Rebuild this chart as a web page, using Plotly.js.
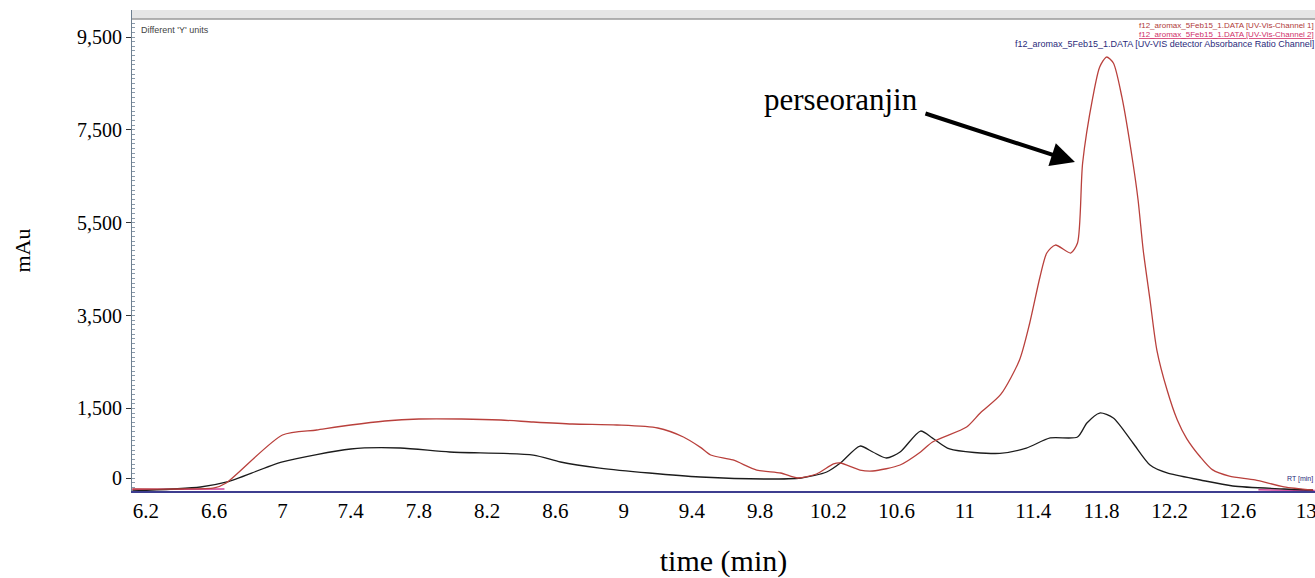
<!DOCTYPE html>
<html>
<head>
<meta charset="utf-8">
<script src="https://cdn.plot.ly/plotly-3.0.1.min.js"></script>
<style>html,body{margin:0;padding:0;background:#fff;}#chart{width:1315px;height:578px;}</style>
</head>
<body>
<div id="chart"></div>
<script>
// Channel 1 (red): retention time (min) and signal (mAu)
var redTime = [6.12, 6.40, 6.60, 6.67, 7.00, 7.20, 7.40, 7.60, 7.80, 8.05, 8.28, 8.47, 8.70, 8.96, 9.20, 9.35, 9.45, 9.51, 9.64, 9.78, 9.92, 10.02, 10.13, 10.23, 10.27, 10.385, 10.46, 10.62, 10.74, 10.81, 11.01, 11.09, 11.21, 11.32, 11.38, 11.44, 11.48, 11.53, 11.62, 11.66, 11.69, 11.75, 11.79, 11.83, 11.87, 11.92, 11.985, 12.015, 12.045, 12.085, 12.125, 12.185, 12.245, 12.30, 12.38, 12.45, 12.55, 12.70, 12.87, 13.04];
var redValue = [-237, -237, -215, -108, 926, 1034, 1142, 1228, 1271, 1271, 1249, 1206, 1163, 1142, 1077, 883, 660, 495, 388, 172, 108, 0, 86, 302, 323, 172, 151, 280, 560, 776, 1099, 1400, 1800, 2542, 3339, 4330, 4847, 5019, 4847, 5062, 6786, 8208, 8854, 9069, 8940, 8208, 6786, 5989, 4912, 3834, 2757, 1896, 1249, 850, 452, 180, 40, -40, -190, -258];

// Absorbance ratio channel (black)
var blackTime = [6.12, 6.52, 6.675, 7.00, 7.40, 7.69, 7.98, 8.47, 8.63, 8.86, 9.15, 9.45, 9.84, 10.04, 10.19, 10.27, 10.385, 10.46, 10.54, 10.62, 10.74, 10.81, 10.91, 11.205, 11.36, 11.50, 11.66, 11.715, 11.79, 11.87, 11.985, 12.085, 12.185, 12.38, 12.57, 12.87, 13.04];
var blackValue = [-280, -194, -86, 345, 625, 646, 560, 495, 345, 215, 108, 22, -22, 0, 129, 323, 689, 560, 431, 560, 1012, 860, 625, 530, 646, 862, 883, 1185, 1400, 1293, 754, 280, 108, -43, -172, -237, -258];

// Channel 2 (magenta), visible only near the baseline
var pinkTime = [6.12, 6.40, 6.66, null, 12.72, 12.90, 13.05];
var pinkValue = [-250, -245, -235, null, -255, -262, -268];

// Axis ticks
var xTickVals = [6.2, 6.6, 7, 7.4, 7.8, 8.2, 8.6, 9, 9.4, 9.8, 10.2, 10.6, 11, 11.4, 11.8, 12.2, 12.6, 13];
var xTickText = ['6.2', '6.6', '7', '7.4', '7.8', '8.2', '8.6', '9', '9.4', '9.8', '10.2', '10.6', '11', '11.4', '11.8', '12.2', '12.6', '13'];
var yTickVals = [0, 1500, 3500, 5500, 7500, 9500];
var yTickText = ['0', '1,500', '3,500', '5,500', '7,500', '9,500'];

var serif = 'Liberation Serif, Times New Roman, serif';
var sans = 'Liberation Sans, Arial, sans-serif';

var traces = [
  {x: pinkTime, y: pinkValue, mode: 'lines', line: {color: '#d0409a', width: 1.5}, name: 'UV-Vis-Channel 2', hoverinfo: 'skip'},
  {x: blackTime, y: blackValue, mode: 'lines', line: {color: '#1c1c1c', width: 1.3, shape: 'spline', smoothing: 0.7}, name: 'Absorbance Ratio Channel'},
  {x: redTime, y: redValue, mode: 'lines', line: {color: '#b9403c', width: 1.3, shape: 'spline', smoothing: 0.7}, name: 'UV-Vis-Channel 1'}
];

var layout = {
  width: 1315, height: 578,
  margin: {l: 132, r: 0, t: 10, b: 87},
  paper_bgcolor: '#ffffff', plot_bgcolor: '#ffffff',
  showlegend: false,
  xaxis: {
    range: [6.118, 13.052], tickmode: 'array', tickvals: xTickVals, ticktext: xTickText,
    showgrid: false, zeroline: false, showline: true, linecolor: '#3d3d8f', linewidth: 1.5,
    ticks: '', ticklabeloverflow: 'allow',
    tickfont: {family: serif, size: 21, color: '#000'},
    title: {text: 'time (min)', font: {family: serif, size: 30, color: '#000'}, standoff: 31},
    automargin: false
  },
  yaxis: {
    range: [-280, 10082], tickmode: 'array', tickvals: yTickVals, ticktext: yTickText,
    showgrid: false, zeroline: false, showline: true, linecolor: '#6f8090', linewidth: 1,
    ticks: 'outside', ticklen: 5, tickcolor: '#333', tickwidth: 1,
    minor: {tickmode: 'linear', tick0: 0, dtick: 100, ticks: 'inside', ticklen: 3, tickcolor: '#8a9aaa', tickwidth: 1},
    tickfont: {family: serif, size: 20, color: '#000'},
    title: {text: 'mAu', font: {family: serif, size: 22, color: '#000'}, standoff: 40},
    automargin: false
  },
  shapes: [
    {type: 'rect', xref: 'paper', yref: 'paper', x0: 0, x1: 1, y0: 0.9813, y1: 1, fillcolor: '#e6e6e6', line: {width: 0}},
    {type: 'line', xref: 'paper', yref: 'paper', x0: 0, x1: 1, y0: 0.9813, y1: 0.9813, line: {color: '#9a9a9a', width: 1.5}}
  ],
  annotations: [
    {x: 11.645, y: 6807, xref: 'x', yref: 'y', text: '', showarrow: true, ax: -151, ay: -49,
     arrowhead: 2, arrowsize: 1.2, arrowwidth: 4, arrowcolor: '#000', standoff: 0},
    {x: 10.274, y: 8150, xref: 'x', yref: 'y', text: 'perseoranjin', showarrow: false,
     font: {family: serif, size: 31, color: '#000'}, xanchor: 'center', yanchor: 'middle'},
    {x: 0.006, y: 0.974, xref: 'paper', yref: 'paper', text: "Different 'Y' units", showarrow: false,
     font: {family: sans, size: 9, color: '#444'}, xanchor: 'left', yanchor: 'top'},
    {x: 1, y: 0.979, xref: 'paper', yref: 'paper', text: 'f12_aromax_5Feb15_1.DATA [UV-Vis-Channel 1]', showarrow: false,
     font: {family: sans, size: 8, color: '#b03a3a'}, xanchor: 'right', yanchor: 'top', borderpad: 0},
    {x: 1, y: 0.960, xref: 'paper', yref: 'paper', text: '<u>f12_aromax_5Feb15_1.DATA [UV-Vis-Channel 2]</u>', showarrow: false,
     font: {family: sans, size: 8, color: '#d0306a'}, xanchor: 'right', yanchor: 'top', borderpad: 0},
    {x: 1, y: 0.941, xref: 'paper', yref: 'paper', text: 'f12_aromax_5Feb15_1.DATA [UV-VIS detector Absorbance Ratio Channel]', showarrow: false,
     font: {family: sans, size: 9, color: '#2a2a7a'}, xanchor: 'right', yanchor: 'top', borderpad: 0},
    {x: 1, y: 0.012, xref: 'paper', yref: 'paper', text: 'RT [min]', showarrow: false,
     font: {family: sans, size: 7, color: '#2a2a7a'}, xanchor: 'right', yanchor: 'bottom'}
  ]
};

Plotly.newPlot('chart', traces, layout, {displayModeBar: false, staticPlot: true});
</script>
</body>
</html>
